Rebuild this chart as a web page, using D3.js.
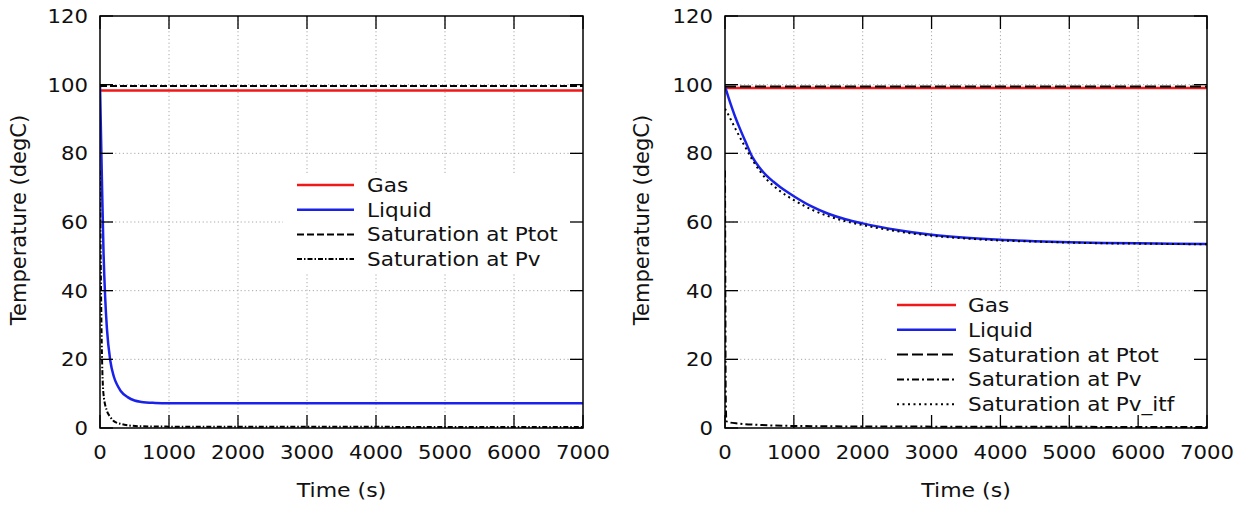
<!DOCTYPE html>
<html><head><meta charset="utf-8">
<script src="https://cdn.jsdelivr.net/npm/d3@7"></script>
<style>body{margin:0;background:#fff}svg{display:block;font-family:"DejaVu Sans",sans-serif}</style>
</head><body><svg id="c" width="1244" height="506"></svg>
<script>
// ---- data ----
const timeTicks = [0,1000,2000,3000,4000,5000,6000,7000];
const tempTicks = [0,20,40,60,80,100,120];
const xLabel = "Time (s)";
const yLabel = "Temperature (degC)";

// left panel series [time s, temperature degC]
const leftGas = [[0,98.3],[7000,98.3]];
const leftLiquid = [[0,100],[25,75],[50,52],[75,38],[100,29],[150,19.5],[200,15],[250,12.5],[300,10.8],[400,9],[500,8],[600,7.6],[800,7.3],[1000,7.2],[2000,7.2],[7000,7.2]];
const leftSatPtot = [[0,99.6],[7000,99.6]];
const leftSatPv = [[0,75],[10,50],[25,25],[50,10],[100,5],[150,3.2],[200,2],[300,1.2],[400,0.8],[600,0.5],[1000,0.4],[7000,0.3]];
const leftNames = ["Gas","Liquid","Saturation at Ptot","Saturation at Pv"];

// right panel series
const rightGas = [[0,99.0],[7000,99.0]];
const rightLiquid = [[0,99.5],[50,96.3],[100,93.3],[150,90.5],[200,88],[250,85.6],[300,83.3],[400,78.8],[500,75.9],[600,73.6],[700,71.8],[800,70.2],[900,68.8],[1000,67.5],[1250,64.6],[1500,62.4],[1750,60.8],[2000,59.6],[2500,57.7],[3000,56.3],[3500,55.4],[4000,54.8],[4500,54.4],[5000,54.1],[5500,53.9],[6000,53.8],[6500,53.7],[7000,53.6]];
const rightSatPtot = [[0,99.5],[7000,99.5]];
const rightSatPv = [[0,75],[5,40],[10,10],[20,2],[50,1.7],[200,1.3],[500,0.9],[1000,0.6],[2000,0.45],[7000,0.3]];
const rightSatPvItf = [[0,93],[50,91.2],[100,89.2],[150,87.2],[200,85.3],[250,83.4],[300,81.6],[400,78],[500,75],[600,72.5],[700,70.6],[800,69],[900,67.6],[1000,66.4],[1250,63.7],[1500,61.7],[1750,60.2],[2000,59.1],[2500,57.3],[3000,56],[3500,55.2],[4000,54.6],[4500,54.3],[5000,54],[5500,53.8],[6000,53.7],[6500,53.6],[7000,53.5]];
const rightNames = ["Gas","Liquid","Saturation at Ptot","Saturation at Pv","Saturation at Pv_itf"];

// ---- drawing ----
const svg = d3.select("#c");
const SX = 1.1; // horizontal glyph stretch

function txt(g,x,y,s,anchor,size){
  return g.append("text").attr("transform",`translate(${x},${y}) scale(${SX},1)`)
    .attr("text-anchor",anchor).attr("font-size",size).attr("fill","#111").text(s);
}

function panel(opt){
  const x = d3.scaleLinear().domain([0,7000]).range([opt.x0,opt.x1]);
  const y = d3.scaleLinear().domain([0,120]).range([428,16]);
  const g = svg.append("g");
  const id = "clip"+opt.x0;
  svg.append("clipPath").attr("id",id).append("rect")
    .attr("x",opt.x0).attr("y",16).attr("width",opt.x1-opt.x0).attr("height",412);
  // grid
  const grid = g.append("g").attr("stroke","#a8a8a8").attr("stroke-width",1).attr("stroke-dasharray","1.2,2.6");
  timeTicks.slice(1,-1).forEach(t=>grid.append("line").attr("x1",x(t)).attr("x2",x(t)).attr("y1",16).attr("y2",428));
  tempTicks.slice(1,-1).forEach(v=>grid.append("line").attr("x1",opt.x0).attr("x2",opt.x1).attr("y1",y(v)).attr("y2",y(v)));
  // legend box (opaque)
  g.append("rect").attr("x",opt.lx0).attr("y",opt.ly0).attr("width",opt.x1-opt.lx0).attr("height",opt.ly1-opt.ly0).attr("fill","#fff");
  // curves
  const line = d3.line().x(d=>x(d[0])).y(d=>y(d[1])).curve(d3.curveMonotoneX);
  const cg = g.append("g").attr("clip-path",`url(#${id})`).attr("fill","none");
  opt.series.forEach(s=>{
    cg.append("path").attr("d",line(s.data)).attr("stroke",s.color).attr("stroke-width",s.w)
      .attr("stroke-dasharray",s.dash||null);
  });
  // frame
  g.append("rect").attr("x",opt.x0).attr("y",16).attr("width",opt.x1-opt.x0).attr("height",412)
    .attr("fill","none").attr("stroke","#000").attr("stroke-width",1.5);
  // ticks (inward, mirrored)
  const tk = g.append("g").attr("stroke","#000").attr("stroke-width",1.3);
  const L = 13;
  timeTicks.forEach(t=>{
    tk.append("line").attr("x1",x(t)).attr("x2",x(t)).attr("y1",428).attr("y2",428-L);
    tk.append("line").attr("x1",x(t)).attr("x2",x(t)).attr("y1",16).attr("y2",16+L);
  });
  tempTicks.forEach(v=>{
    tk.append("line").attr("x1",opt.x0).attr("x2",opt.x0+L).attr("y1",y(v)).attr("y2",y(v));
    tk.append("line").attr("x1",opt.x1).attr("x2",opt.x1-L).attr("y1",y(v)).attr("y2",y(v));
  });
  // tick labels
  timeTicks.forEach(t=>txt(g,x(t),459,d3.format("d")(t),"middle",19.3));
  tempTicks.forEach(v=>txt(g,opt.x0-12,y(v)+7,d3.format("d")(v),"end",19.3));
  // axis titles
  txt(g,(opt.x0+opt.x1)/2,497,xLabel,"middle",20);
  g.append("text").attr("transform",`translate(${opt.yl},${220}) rotate(-90)`)
    .attr("text-anchor","middle").attr("font-size",21).attr("fill","#111").text(yLabel);
  // legend entries
  opt.series.forEach((s,i)=>{
    const yy = opt.legY + i*opt.legDy;
    g.append("line").attr("x1",opt.sx0).attr("x2",opt.sx1).attr("y1",yy).attr("y2",yy)
      .attr("stroke",s.color).attr("stroke-width",s.w).attr("stroke-dasharray",s.dash||null);
    txt(g,opt.tx,yy+7,s.name,"start",19.6);
  });
}

panel({x0:100,x1:583,lx0:283,ly0:173,ly1:273,legY:185,legDy:24.7,sx0:297,sx1:354,tx:367,yl:26,
  series:[
    {name:leftNames[0],data:leftGas,color:"#f01818",w:2.5},
    {name:leftNames[1],data:leftLiquid,color:"#1a22ea",w:2.5},
    {name:leftNames[2],data:leftSatPtot,color:"#000",w:2,dash:"7,3"},
    {name:leftNames[3],data:leftSatPv,color:"#000",w:2,dash:"5,2,1.5,2"}
  ]});
panel({x0:725,x1:1207,lx0:887,ly0:293,ly1:416,legY:305,legDy:24.8,sx0:897,sx1:956,tx:968,yl:649,
  series:[
    {name:rightNames[0],data:rightGas,color:"#f01818",w:2.5},
    {name:rightNames[1],data:rightLiquid,color:"#1a22ea",w:2.5},
    {name:rightNames[2],data:rightSatPtot,color:"#000",w:2,dash:"11,4"},
    {name:rightNames[3],data:rightSatPv,color:"#000",w:2,dash:"7,3,2,3"},
    {name:rightNames[4],data:rightSatPvItf,color:"#000",w:2,dash:"2,3.5"}
  ]});
</script></body></html>
